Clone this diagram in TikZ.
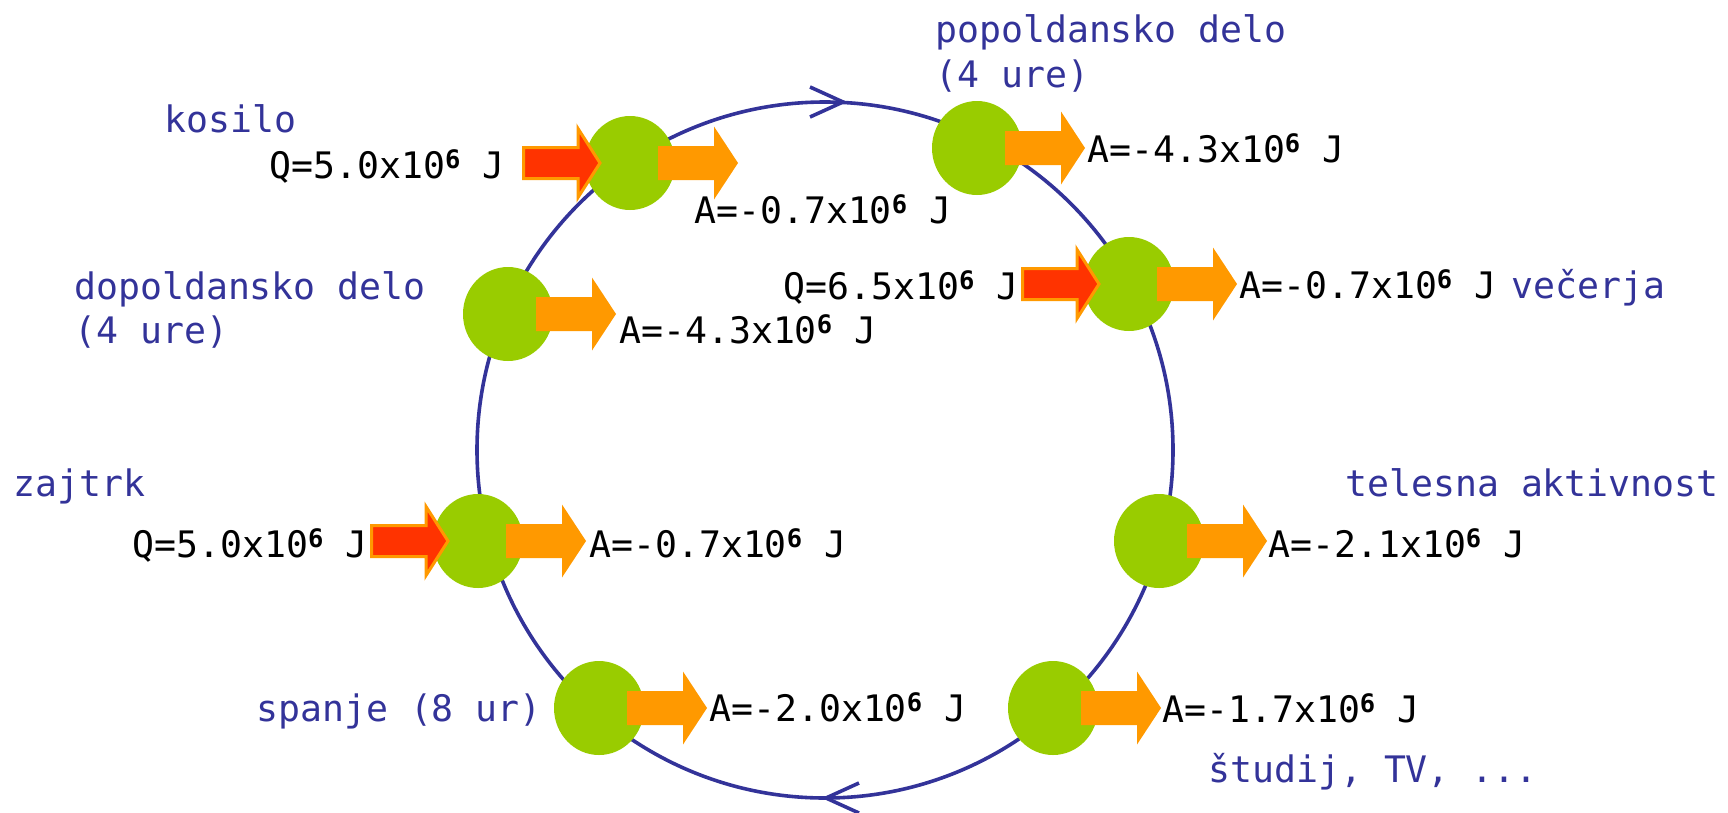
\documentclass[tikz,border=0pt]{standalone}
\usepackage{fontspec}
\setmainfont{DejaVu Sans Mono}
\usetikzlibrary{shapes.geometric}
\definecolor{cyc}{HTML}{333399}
\definecolor{grn}{HTML}{99CC00}
\definecolor{org}{HTML}{FF9900}
\definecolor{rd}{HTML}{FF3300}
\newcommand\sx[1]{\raisebox{9.5pt}{\fontsize{25.5}{25.5}\selectfont\bfseries #1}}
\begin{document}
\begin{tikzpicture}[x=1pt,y=-1pt,
  dot/.style={ellipse, fill=grn, minimum width=90pt, minimum height=94pt, inner sep=0pt},
  val/.style={anchor=base west, inner sep=0pt, font=\fontsize{36.5}{44}\selectfont, text=black},
  lbl/.style={val, text=cyc},
  cycline/.style={draw=cyc, line width=3.6pt},
  pics/outarrow/.style={code={\fill[org] (0,-17) -- (56,-17) -- (56,-36.5) -- (80,0) -- (56,36.5) -- (56,17) -- (0,17) -- cycle;}},
  pics/inarrow/.style={code={\filldraw[fill=rd, draw=org, line width=3pt] (1.5,-15.5) -- (56,-15.5) -- (56,-34.5) -- (78,0) -- (56,34.5) -- (56,15.5) -- (1.5,15.5) -- cycle;}}
]
\useasboundingbox (0,0) rectangle (1728,812);

% cycle
\node[circle, cycline, minimum size=696pt, inner sep=0pt] (loop) at (825,450) {};
\draw[cycline] (810,87) -- (843,102) -- (810,117);
\draw[cycline] (859,783) -- (826,798) -- (859,813);

% bodies
\node[dot] (kos) at (630,163) {};
\node[dot] (dop) at (508,314) {};
\node[dot] (pop) at (977,148) {};
\node[dot] (vec) at (1129,284) {};
\node[dot] (zaj) at (478,541) {};
\node[dot] (spa) at (599,708) {};
\node[dot] (tel) at (1159,541) {};
\node[dot] (stu) at (1053,708) {};

% work arrows
\foreach \n in {kos,dop,pop,vec,zaj,spa,tel,stu}
  \pic at ([xshift=28pt]\n.center) {outarrow};
% heat arrows
\foreach \n in {kos,vec,zaj}
  \pic at ([xshift=-108pt]\n.center) {inarrow};

% values
\node[val] (kosQ) at (269,178) {Q=5.0x10\sx{6} J};
\node[val] (kosA) at (694,223) {A=-0.7x10\sx{6} J};
\node[val] (dopA) at (619,343) {A=-4.3x10\sx{6} J};
\node[val] (popA) at (1087,162) {A=-4.3x10\sx{6} J};
\node[val] (vecQ) at (783,299) {Q=6.5x10\sx{6} J};
\node[val] (vecA) at (1239,298) {A=-0.7x10\sx{6} J};
\node[val] (zajQ) at (132,557) {Q=5.0x10\sx{6} J};
\node[val] (zajA) at (589,557) {A=-0.7x10\sx{6} J};
\node[val] (telA) at (1268,557) {A=-2.1x10\sx{6} J};
\node[val] (spaA) at (709,721) {A=-2.0x10\sx{6} J};
\node[val] (stuA) at (1162,722) {A=-1.7x10\sx{6} J};

% labels
\node[lbl] (Lkos) at (164,132) {kosilo};
\node[lbl] (Ldop1) at (74,299) {dopoldansko delo};
\node[lbl] (Ldop2) at (74,343) {(4 ure)};
\node[lbl] (Lpop1) at (935,42) {popoldansko delo};
\node[lbl] (Lpop2) at (935,87) {(4 ure)};
\node[lbl] (Lzaj) at (13,496) {zajtrk};
\node[lbl] (Lvec) at (1511,298) {večerja};
\node[lbl] (Ltel) at (1345,496) {telesna aktivnost};
\node[lbl] (Lspa) at (256,721) {spanje (8 ur)};
\node[lbl] (Lstu) at (1208,782) {študij, TV, ...};
\end{tikzpicture}
\end{document}
